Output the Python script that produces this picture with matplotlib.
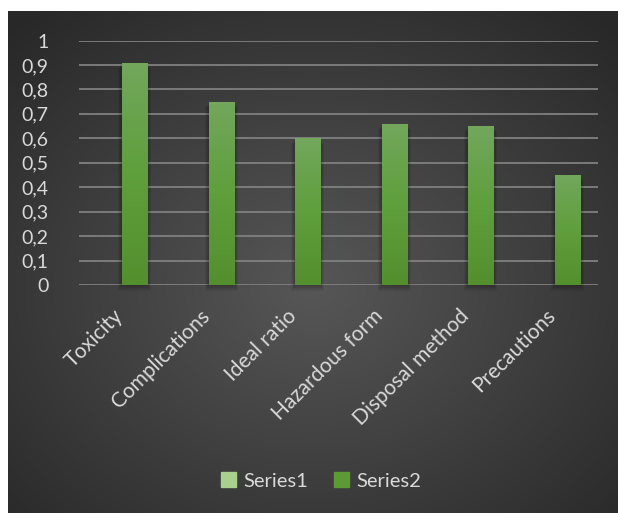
import numpy as np
import matplotlib.pyplot as plt
from matplotlib.patches import Patch, Rectangle
from matplotlib.colors import LinearSegmentedColormap

# data
categories = ['Toxicity', 'Complications', 'Ideal ratio', 'Hazardous form',
              'Disposal method', 'Precautions']
series1 = [0, 0, 0, 0, 0, 0]
series2 = [0.91, 0.75, 0.60, 0.66, 0.65, 0.45]
y_ticks = [0, 0.1, 0.2, 0.3, 0.4, 0.5, 0.6, 0.7, 0.8, 0.9, 1.0]
y_labels = ['0', '0,1', '0,2', '0,3', '0,4', '0,5', '0,6', '0,7', '0,8', '0,9', '1']

W, H = 618, 513
TXT = '#d9d9d9'
C1 = '#a9d18e'
C2 = '#5b9a35'

plt.rcParams['font.family'] = ['Lato', 'DejaVu Sans']

fig = plt.figure(figsize=(W / 100, H / 100), dpi=100)
fig.patch.set_facecolor('white')

# dark radial background
bg = fig.add_axes([8 / W, 0, (W - 8) / W, (H - 11) / H])
bg.set_axis_off()
yy, xx = np.mgrid[-1:1:300j, -1:1:300j]
r = np.clip(np.sqrt(xx ** 2 + (yy - 0.1) ** 2) / np.sqrt(2), 0, 1)
shade = 0.34 - 0.18 * r
bg.imshow(np.dstack([shade] * 3), extent=[0, 1, 0, 1], aspect='auto')
bg.set_xlim(0, 1)
bg.set_ylim(0, 1)

left, right, top, bottom = 79, 598, 40.5, 285
ax = fig.add_axes([left / W, 1 - bottom / H, (right - left) / W, (bottom - top) / H])
ax.patch.set_alpha(0)

x = np.arange(len(categories))
bw = 0.29
ax.bar(x - bw / 2, series1, width=bw, color=C1, zorder=3)
bars = ax.bar(x + bw / 2, series2, width=bw, color=C2, zorder=3)

# soft shadow + vertical gradient on the bars
grad = np.linspace(0, 1, 100).reshape(-1, 1)
cmap = LinearSegmentedColormap.from_list('g', ['#548f2e', '#5f9f3c', '#72a75c'])
for b in bars:
    x0, w, h = b.get_x(), b.get_width(), b.get_height()
    for k in range(1, 5):
        ax.add_patch(Rectangle((x0 - 0.012 * k, -0.006 * k), w + 0.024 * k, h,
                               color='black', alpha=0.07, lw=0, zorder=2, clip_on=False))
    im = ax.imshow(grad, extent=[x0, x0 + w, 0, h], origin='lower', cmap=cmap,
                   aspect='auto', zorder=4)
    im.set_clip_path(b)

ax.set_xlim(-0.5, len(categories) - 0.5)
ax.set_ylim(0, 1)
ax.set_yticks(y_ticks)
ax.set_yticklabels(y_labels, color=TXT, fontsize=14)
ax.set_xticks(x)
ax.set_xticklabels([])
for i, name in enumerate(categories):
    ax.annotate(name, xy=(i, 0), xytext=(2, -32), textcoords='offset pixels',
                rotation=45, ha='right', va='baseline', rotation_mode='anchor',
                color=TXT, fontsize=15, annotation_clip=False)
ax.tick_params(length=0)
ax.tick_params(axis='y', pad=22)
for s in ax.spines.values():
    s.set_visible(False)
ax.yaxis.grid(True, color='#808080', linewidth=1.3, zorder=0)
ax.set_axisbelow(True)

handles = [Patch(color=C1, label='Series1'), Patch(color=C2, label='Series2')]
leg = fig.legend(handles=handles, loc='center', bbox_to_anchor=(321 / W, 1 - 481 / H),
                 ncol=2, frameon=False, fontsize=14.5, handlelength=0.75, handleheight=0.75,
                 handletextpad=0.35, columnspacing=1.3)
for t in leg.get_texts():
    t.set_color(TXT)

fig.savefig('out.png', dpi=100)
